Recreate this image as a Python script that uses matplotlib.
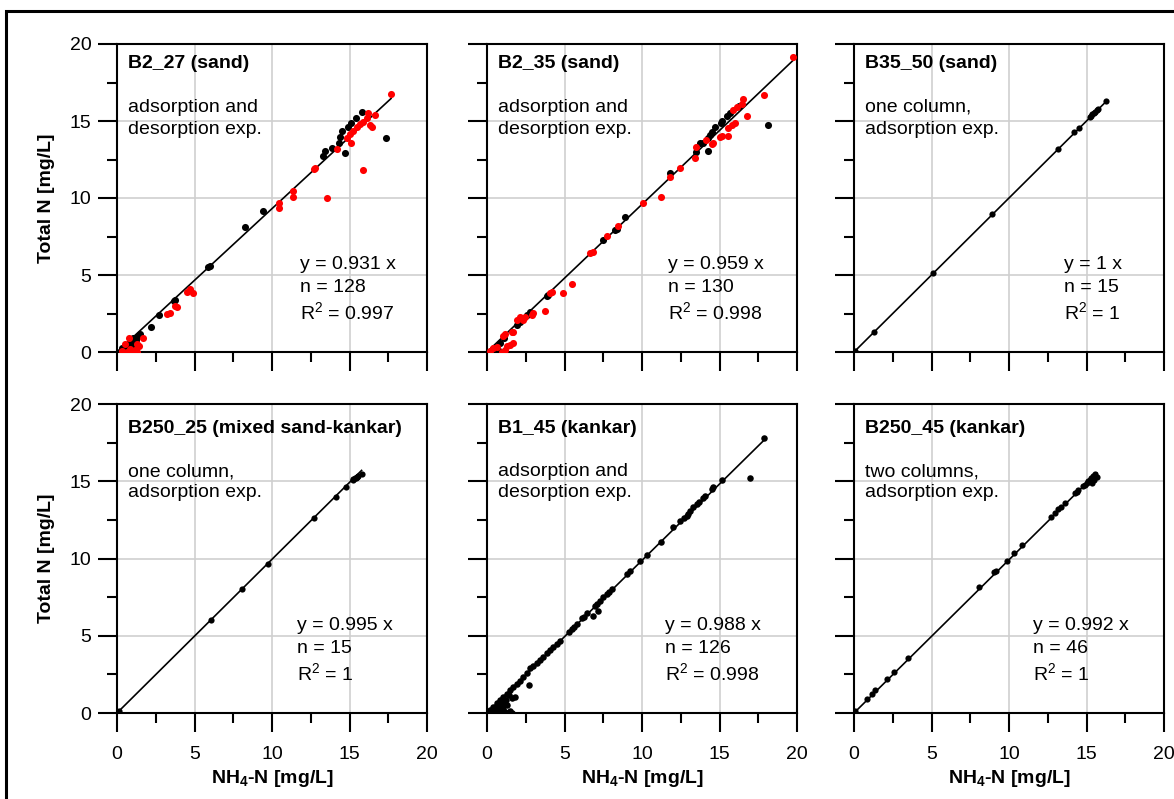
import matplotlib
matplotlib.use("Agg")
import matplotlib.pyplot as plt
from matplotlib.patches import Rectangle

plt.rcParams['font.family'] = ['Liberation Sans', 'DejaVu Sans']
plt.rcParams['mathtext.fontset'] = 'custom'
plt.rcParams['mathtext.rm'] = 'Liberation Sans'
plt.rcParams['mathtext.it'] = 'Liberation Sans:italic'
plt.rcParams['mathtext.bf'] = 'Liberation Sans:bold'

# ---------------- data ----------------
titles = ["B2_27 (sand)", "B2_35 (sand)", "B35_50 (sand)",
          "B250_25 (mixed sand-kankar)", "B1_45 (kankar)", "B250_45 (kankar)"]
notes = [["adsorption and", "desorption exp."],
         ["adsorption and", "desorption exp."],
         ["one column,", "adsorption exp."],
         ["one column,", "adsorption exp."],
         ["adsorption and", "desorption exp."],
         ["two columns,", "adsorption exp."]]
slopes = [0.931, 0.959, 1.0, 0.995, 0.988, 0.992]
slope_labels = ["0.931", "0.959", "1", "0.995", "0.988", "0.992"]
n_values = [128, 130, 15, 15, 126, 46]
r2_labels = ["0.997", "0.998", "1", "1", "0.998", "1"]
tick_values = [0, 5, 10, 15, 20]
minor_values = [2.5, 7.5, 12.5, 17.5]
x_label = "NH$_\\mathbf{4}$-N [mg/L]"
y_label = "Total N [mg/L]"

# panel 1 (B2_27)
bx1 = [15.79, 15.42, 15.07, 14.92, 14.54, 14.39, 14.34, 14.71, 13.85, 13.42, 13.31, 17.33, 9.40, 8.26,
       5.89, 6.00, 3.74, 3.70, 2.73, 2.19, 1.48, 1.38, 1.05, 0.84, 0.63, 0.41, 0.20, 0.95, 1.16, 0.75,
       0.55, 1.25, 1.00, 0.70, 0.35]
by1 = [15.60, 15.17, 14.85, 14.63, 14.35, 13.98, 13.55, 12.94, 13.23, 13.07, 12.75, 13.87, 9.18, 8.14,
       5.50, 5.56, 3.38, 3.30, 2.40, 1.65, 1.17, 1.04, 0.67, 0.45, 0.24, 0.13, 0.02, 0.13, 0.35, 0.55,
       0.30, 0.80, 0.90, 0.05, 0.25]
rx1 = [17.68, 16.22, 16.65, 16.10, 15.89, 15.68, 15.46, 15.25, 15.03, 14.82, 16.32, 16.43, 15.10, 15.89,
       13.53, 14.17, 12.77, 12.71, 11.38, 11.38, 10.47, 10.47, 4.71, 4.88, 4.54, 3.74, 3.90, 3.20, 3.42,
       1.70, 1.27, 1.16, 0.84, 0.52, 1.05, 1.27, 0.63, 0.31, 0.80, 1.40]
ry1 = [16.73, 15.50, 15.39, 15.17, 14.96, 14.78, 14.59, 14.38, 14.16, 13.88, 14.73, 14.63, 13.55, 11.82,
       10.02, 13.16, 11.93, 11.87, 10.47, 10.09, 9.65, 9.33, 4.07, 3.86, 3.92, 2.99, 2.94, 2.47, 2.51,
       0.89, 0.52, 0.10, 0.20, 0.52, 0.00, 0.00, 0.00, 0.05, 0.90, 0.40]

# panel 2 (B2_35)
bx2 = [18.15, 16.28, 15.68, 15.46, 15.14, 15.08, 14.71, 14.50, 14.39, 14.28, 13.74, 13.91, 13.48, 14.28,
       11.81, 8.90, 8.37, 8.26, 7.46, 3.96, 3.85, 2.77, 2.56, 2.34, 2.13, 1.96, 0.84, 0.63, 0.52, 0.31,
       0.10, 0.73, 0.84, 1.10]
by2 = [14.74, 15.99, 15.54, 15.33, 15.03, 14.85, 14.59, 14.31, 14.09, 13.88, 13.55, 13.60, 13.01, 13.07,
       11.60, 8.75, 7.99, 7.92, 7.27, 3.70, 3.66, 2.62, 2.40, 2.19, 1.97, 1.75, 0.56, 0.35, 0.24, 0.13,
       0.02, 0.13, 0.02, 0.90]
rx2 = [19.76, 17.87, 16.54, 16.43, 16.11, 15.89, 16.75, 16.00, 15.78, 15.57, 15.57, 15.03, 15.14, 14.60,
       14.50, 13.48, 13.42, 14.13, 12.45, 11.81, 11.23, 10.09, 8.47, 7.72, 6.86, 6.64, 5.46, 4.88, 4.17,
       4.06, 3.74, 2.99, 2.88, 2.45, 2.34, 2.13, 1.92, 1.70, 1.59, 1.16, 1.05, 1.66, 1.48, 1.27, 1.16,
       0.95, 0.63, 0.41, 0.20]
ry2 = [19.18, 16.69, 16.41, 16.10, 15.93, 15.71, 15.32, 14.85, 14.74, 14.53, 14.03, 13.98, 14.03, 13.55,
       13.48, 13.33, 12.62, 13.77, 11.93, 11.38, 10.09, 9.70, 8.18, 7.53, 6.51, 6.45, 4.42, 3.81, 3.92,
       3.81, 2.66, 2.56, 2.40, 2.30, 2.10, 2.30, 2.08, 1.32, 1.28, 1.17, 1.06, 0.56, 0.45, 0.39, 0.13,
       0.02, 0.35, 0.24, 0.09]

# panel 3 (B35_50)
bx3 = [0.05, 1.31, 5.12, 8.92, 13.14, 14.22, 14.54, 15.23, 15.38, 15.48, 15.66, 15.76, 16.24, 15.30, 15.55]
by3 = [0.05, 1.32, 5.15, 8.94, 13.18, 14.26, 14.57, 15.28, 15.43, 15.54, 15.71, 15.78, 16.32, 15.35, 15.60]

# panel 4 (B250_25)
bx4 = [0.10, 6.04, 8.09, 9.72, 12.73, 14.13, 14.75, 15.20, 15.35, 15.46, 15.57, 15.78, 15.25, 15.40, 15.50]
by4 = [0.10, 6.02, 8.00, 9.64, 12.60, 14.00, 14.65, 15.08, 15.19, 15.26, 15.34, 15.47, 15.12, 15.22, 15.30]

# panel 5 (B1_45)
bx5 = [17.87, 16.97, 15.18, 14.60, 14.50, 14.06, 13.92, 13.53, 13.31, 13.10, 12.99, 12.88, 12.45, 12.02,
       11.23, 10.30, 9.87, 9.23, 9.01, 8.04, 7.89, 7.72, 7.50, 7.29, 7.08, 6.97, 6.86, 7.18, 6.43, 6.11,
       5.79, 5.46, 4.71, 4.49, 4.28, 4.06, 3.85, 3.63, 3.42, 3.20, 2.99, 2.77, 2.56, 2.73, 2.34, 2.13,
       1.92, 1.70, 1.49, 1.27, 1.06, 0.84, 0.63, 0.41, 0.20, 1.80, 1.59, 1.38, 1.16, 0.95, 0.63, 0.41,
       0.20, 1.10, 0.85, 0.30, 0.50, 0.75, 0.95, 1.20, 1.45, 0.55, 0.35, 1.00, 1.30, 0.15, 0.70, 1.50,
       1.60, 13.70, 12.70, 5.30, 5.60, 6.25]
by5 = [17.82, 15.23, 15.08, 14.60, 14.50, 14.05, 13.90, 13.53, 13.31, 13.09, 12.88, 12.77, 12.40, 12.01,
       11.09, 10.23, 9.86, 9.20, 9.01, 8.00, 7.86, 7.71, 7.50, 7.28, 7.07, 6.90, 6.28, 6.63, 6.49, 6.12,
       5.79, 5.42, 4.68, 4.46, 4.25, 4.08, 3.86, 3.65, 3.43, 3.22, 3.04, 2.89, 2.61, 1.81, 2.31, 2.10,
       1.90, 1.68, 1.47, 1.25, 1.04, 0.83, 0.62, 0.40, 0.20, 1.06, 0.95, 0.00, 0.04, 0.00, 0.00, 0.00,
       0.00, 0.60, 0.45, 0.15, 0.30, 0.45, 0.70, 0.85, 1.15, 0.05, 0.10, 0.25, 0.50, 0.05, 0.20, 0.10,
       0.00, 13.65, 12.60, 5.25, 5.55, 6.20]

# panel 6 (B250_45)
bx6 = [0.05, 0.82, 1.18, 1.36, 2.11, 2.60, 3.51, 8.09, 9.05, 9.16, 9.85, 10.32, 10.82, 12.71, 12.97, 13.18,
       13.33, 13.61, 14.26, 14.37, 14.47, 14.80, 15.01, 15.27, 15.55, 15.66, 15.48, 15.33, 15.44, 14.90,
       15.10, 15.20]
by6 = [0.10, 0.89, 1.22, 1.48, 2.18, 2.66, 3.57, 8.14, 9.10, 9.18, 9.86, 10.38, 10.88, 12.71, 12.97, 13.19,
       13.31, 13.62, 14.22, 14.33, 14.43, 14.69, 14.90, 15.19, 15.47, 15.26, 15.08, 14.87, 15.33, 14.75,
       15.00, 15.05]

black_x = [bx1, bx2, bx3, bx4, bx5, bx6]
black_y = [by1, by2, by3, by4, by5, by6]
red_x = [rx1, rx2, [], [], [], []]
red_y = [ry1, ry2, [], [], [], []]

# ---------------- layout ----------------
W, H = 1174, 799
fig = plt.figure(figsize=(W / 100, H / 100), dpi=100)

lefts_px = [117, 487, 854]
rows_px = [(44, 352), (404, 713)]
width_px = 310
stat_x = [0.59, 0.584, 0.677, 0.58, 0.574, 0.577]
title_y = [0.938, 0.922]
note_y = [(0.795, 0.724), (0.78, 0.712)]
marker_sizes = [26, 26, 20, 20, 22, 20]

for i in range(6):
    r, c = divmod(i, 3)
    top, bot = rows_px[r]
    ax = fig.add_axes([lefts_px[c] / W, 1 - bot / H, width_px / W, (bot - top) / H])
    ax.set_xlim(0, 20)
    ax.set_ylim(0, 20)
    ax.set_xticks(tick_values)
    ax.set_yticks(tick_values)
    ax.set_xticks(minor_values, minor=True)
    ax.set_yticks(minor_values, minor=True)
    ax.grid(True, which='major', color='#cfcfcf', lw=1.2, zorder=0)
    ax.set_axisbelow(True)
    ax.tick_params(which='major', direction='out', length=13.5, width=1.5, labelsize=14, pad=5)
    ax.tick_params(which='minor', direction='out', length=7, width=1.5)
    ax.tick_params(axis='x', which='major', pad=10)
    for s in ax.spines.values():
        s.set_linewidth(1.5)
    if c != 0:
        ax.set_yticklabels([])
    if r == 0:
        ax.set_xticklabels([])

    xmax = max(black_x[i] + red_x[i])
    ax.plot([0, xmax], [0, slopes[i] * xmax], color='black', lw=1.2, zorder=3)
    ms = marker_sizes[i]
    ax.scatter(black_x[i], black_y[i], s=ms, color='black', lw=0, zorder=4)
    if red_x[i]:
        ax.scatter(red_x[i], red_y[i], s=ms, color='#ff0000', lw=0, zorder=4)

    ax.text(0.035, title_y[r], titles[i], transform=ax.transAxes, fontsize=14,
            fontweight='bold', ha='left', va='center')
    ax.text(0.035, note_y[r][0], notes[i][0], transform=ax.transAxes, fontsize=14,
            ha='left', va='center')
    ax.text(0.035, note_y[r][1], notes[i][1], transform=ax.transAxes, fontsize=14,
            ha='left', va='center')
    ax.text(stat_x[i], 0.269, f"y = {slope_labels[i]} x", transform=ax.transAxes,
            fontsize=14, ha='left', va='baseline')
    ax.text(stat_x[i], 0.195, f"n = {n_values[i]}", transform=ax.transAxes,
            fontsize=14, ha='left', va='baseline')
    ax.text(stat_x[i], 0.107, "R$^{2}$ = " + r2_labels[i], transform=ax.transAxes,
            fontsize=14, ha='left', va='baseline')

    if c == 0:
        ax.set_ylabel(y_label, fontsize=14, fontweight='bold')
        ax.yaxis.set_label_coords(-0.2, 0.5)
    if r == 1:
        ax.set_xlabel(x_label, fontsize=14, fontweight='bold')
        ax.xaxis.set_label_coords(0.5, -0.178)

# outer frame
fig.patches.append(Rectangle((5.5 / W, -0.1), 1.2, 1 - 11.5 / H + 0.1, transform=fig.transFigure,
                             fill=False, edgecolor='black', lw=2.2, clip_on=False))

fig.savefig("out.png", dpi=100)
